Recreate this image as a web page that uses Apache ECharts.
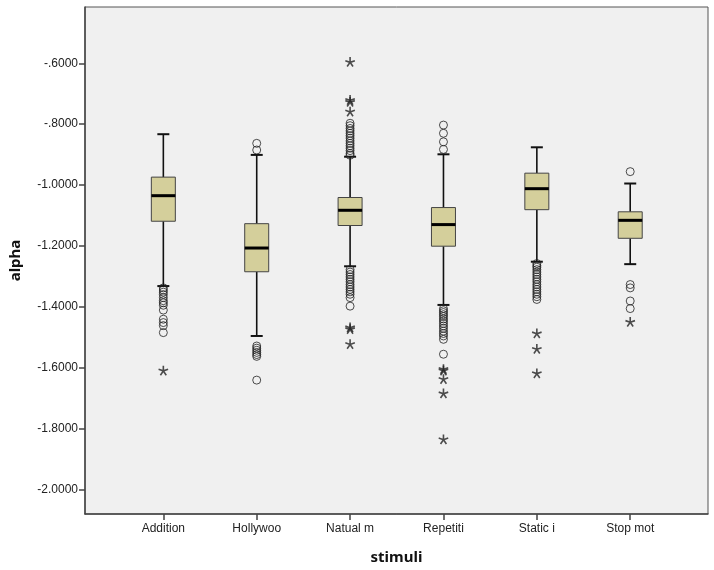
<!DOCTYPE html>
<html>
<head>
<meta charset="utf-8">
<script src="https://cdn.jsdelivr.net/npm/echarts@6/dist/echarts.min.js"></script>
<style>html,body{margin:0;padding:0;background:#fff;}#c{width:714px;height:570px;}</style>
</head>
<body>
<div id="c"></div>
<script>
var categories = ['Addition', 'Hollywoo', 'Natual m', 'Repetiti', 'Static i', 'Stop mot'];
var yTicks = [-2.0, -1.8, -1.6, -1.4, -1.2, -1.0, -0.8, -0.6];
// [lower whisker, Q1, median, Q3, upper whisker]
var boxAddition = [-1.332, -1.119, -1.035, -0.974, -0.833];
var boxHollywoo = [-1.496, -1.285, -1.207, -1.127, -0.901];
var boxNatual   = [-1.267, -1.133, -1.083, -1.041, -0.907];
var boxRepetiti = [-1.394, -1.201, -1.130, -1.074, -0.899];
var boxStatic   = [-1.252, -1.081, -1.012, -0.961, -0.876];
var boxStopmot  = [-1.260, -1.175, -1.116, -1.088, -0.995];
// outliers (circles)
var outAddition = [-1.338, -1.345, -1.352, -1.360, -1.370, -1.380, -1.387, -1.395, -1.411, -1.441, -1.452, -1.462, -1.485];
var outHollywoo = [-0.863, -0.885, -1.529, -1.536, -1.543, -1.550, -1.557, -1.563, -1.641];
var outNatual   = [-0.797, -0.805, -0.814, -0.822, -0.830, -0.838, -0.846, -0.855, -0.863, -0.871, -0.879, -0.887, -0.896, -0.902,
                   -1.278, -1.286, -1.294, -1.302, -1.310, -1.318, -1.327, -1.335, -1.343, -1.351, -1.359, -1.370, -1.398];
var outRepetiti = [-0.803, -0.830, -0.858, -0.883, -1.406, -1.413, -1.419, -1.426, -1.432, -1.440, -1.447, -1.455, -1.463, -1.471, -1.480, -1.488, -1.496, -1.507, -1.556];
var outStatic   = [-1.258, -1.265, -1.270, -1.278, -1.286, -1.294, -1.302, -1.310, -1.318, -1.327, -1.335, -1.343, -1.351, -1.359, -1.367, -1.376];
var outStopmot  = [-0.956, -1.327, -1.338, -1.381, -1.406];
// extremes (stars)
var extAddition = [-1.610];
var extHollywoo = [];
var extNatual   = [-0.596, -0.721, -0.727, -0.759, -1.468, -1.474, -1.523];
var extRepetiti = [-1.605, -1.610, -1.638, -1.685, -1.836];
var extStatic   = [-1.488, -1.539, -1.619];
var extStopmot  = [-1.450];

var boxes = [boxAddition, boxHollywoo, boxNatual, boxRepetiti, boxStatic, boxStopmot];
var outs = [outAddition, outHollywoo, outNatual, outRepetiti, outStatic, outStopmot];
var exts = [extAddition, extHollywoo, extNatual, extRepetiti, extStatic, extStopmot];

var boxData = boxes.map(function (b, i) { return [i].concat(b); });
var outData = [], extData = [];
outs.forEach(function (arr, i) { arr.forEach(function (v) { outData.push([i, v]); }); });
exts.forEach(function (arr, i) { arr.forEach(function (v) { extData.push([i, v]); }); });

// asterisk symbol path (5 arms)
function asteriskPath() {
  var p = '', w = 0.16, r = 1;
  for (var k = 0; k < 5; k++) {
    var a = -Math.PI / 2 + k * 2 * Math.PI / 5;
    var ca = Math.cos(a), sa = Math.sin(a);
    var nx = -sa * w, ny = ca * w;
    var pts = [[nx, ny], [ca * r + nx, sa * r + ny], [ca * r - nx, sa * r - ny], [-nx, -ny]];
    p += 'M' + pts.map(function (q) { return (q[0] * 10 + 10).toFixed(2) + ' ' + (q[1] * 10 + 10).toFixed(2); }).join(' L') + ' Z ';
  }
  return 'path://' + p;
}

var chart = echarts.init(document.getElementById('c'), null, { renderer: 'canvas' });

function fmtY(v) {
  var s = Number(v).toFixed(4);
  return s.replace(/^(-?)0\./, '$1.');
}

var option = {
  backgroundColor: '#ffffff',
  animation: false,
  grid: {
    left: 84, top: 7, width: 624, height: 508,
    show: true, backgroundColor: '#f0f0f0', borderColor: '#555', borderWidth: 1
  },
  xAxis: {
    type: 'value', min: -0.839, max: 5.833,
    splitLine: { show: false },
    axisLine: { show: true, onZero: false, lineStyle: { color: '#444', width: 1.5 } },
    axisTick: { show: true, length: 6, customValues: [0, 1, 2, 3, 4, 5], lineStyle: { color: '#444', width: 1.5 } },
    axisLabel: {
      customValues: [0, 1, 2, 3, 4, 5],
      formatter: function (v) { return categories[Math.round(v)]; },
      fontFamily: 'Liberation Sans', fontSize: 12, color: '#222', margin: 9
    },
    name: 'stimuli', nameLocation: 'middle', nameGap: 36,
    nameTextStyle: { fontFamily: 'Noto Sans', fontWeight: 'bold', fontSize: 15, color: '#111' }
  },
  yAxis: {
    type: 'value', min: -2.081, max: -0.415,
    splitLine: { show: false },
    axisLine: { show: true, onZero: false, lineStyle: { color: '#444', width: 1.5 } },
    axisTick: { show: true, length: 6, customValues: yTicks, lineStyle: { color: '#444', width: 1.5 } },
    axisLabel: {
      customValues: yTicks, formatter: fmtY,
      fontFamily: 'Liberation Sans', fontSize: 12, color: '#222', margin: 7
    },
    name: 'alpha', nameLocation: 'middle', nameGap: 62, nameRotate: 90,
    nameTextStyle: { fontFamily: 'Noto Sans', fontWeight: 'bold', fontSize: 15, color: '#111' }
  },
  series: [
    {
      type: 'custom',
      data: boxData,
      encode: { x: 0, y: [1, 2, 3, 4, 5] },
      renderItem: function (params, api) {
        var x = api.value(0);
        var lo = api.coord([x, api.value(1)]);
        var q1 = api.coord([x, api.value(2)]);
        var md = api.coord([x, api.value(3)]);
        var q3 = api.coord([x, api.value(4)]);
        var hi = api.coord([x, api.value(5)]);
        var cx = lo[0], bw = 12, cw = 6;
        var lineStyle = { stroke: '#111', lineWidth: 1.6 };
        return {
          type: 'group',
          children: [
            { type: 'line', shape: { x1: cx, y1: lo[1], x2: cx, y2: q1[1] }, style: lineStyle },
            { type: 'line', shape: { x1: cx, y1: q3[1], x2: cx, y2: hi[1] }, style: lineStyle },
            { type: 'line', shape: { x1: cx - cw, y1: lo[1], x2: cx + cw, y2: lo[1] }, style: { stroke: '#111', lineWidth: 2 } },
            { type: 'line', shape: { x1: cx - cw, y1: hi[1], x2: cx + cw, y2: hi[1] }, style: { stroke: '#111', lineWidth: 2 } },
            { type: 'rect', shape: { x: cx - bw, y: q3[1], width: 2 * bw, height: q1[1] - q3[1] }, style: { fill: '#d4cf9b', stroke: '#444', lineWidth: 1 } },
            { type: 'line', shape: { x1: cx - bw, y1: md[1], x2: cx + bw, y2: md[1] }, style: { stroke: '#000', lineWidth: 3 } }
          ]
        };
      },
      z: 2
    },
    {
      type: 'scatter',
      data: outData,
      symbol: 'circle', symbolSize: 8,
      itemStyle: { color: 'rgba(240,240,240,0)', borderColor: '#222', borderWidth: 1 },
      z: 3
    },
    {
      type: 'scatter',
      data: extData,
      symbol: asteriskPath(), symbolSize: 10,
      itemStyle: { color: '#222' },
      z: 3
    }
  ]
};
chart.setOption(option);
</script>
</body>
</html>
